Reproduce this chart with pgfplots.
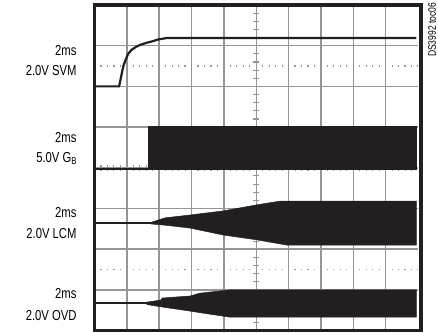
\documentclass[border=0pt]{standalone}
\usepackage{pgfplots}
\pgfplotsset{compat=1.18}
\usepackage{fontspec}
\setmainfont{Liberation Sans}[FakeStretch=0.78]
\definecolor{ink}{HTML}{231F20}
\definecolor{gridc}{HTML}{959595}
\begin{document}
\begin{tikzpicture}
\useasboundingbox (-94.5bp,-2.4bp) rectangle (343.5bp,330.6bp);
\begin{axis}[
  at={(0,0)}, anchor=south west,
  width=323.5bp, height=325.6bp, scale only axis,
  xmin=0, xmax=10, ymin=0, ymax=8,
  xtick={1,...,9}, ytick={1,...,7},
  xticklabels={}, yticklabels={},
  major tick length=0pt,
  grid=major, grid style={gridc, line width=1.5bp},
  axis line style={draw=none},
  clip=false,
  every node/.append style={text=ink},
]
% dotted half-division lines
\draw[gridc, line width=1.2bp, dash pattern=on 1.2bp off 5.27bp, dash phase=0.6bp] (axis cs:0,6.5) -- (axis cs:10,6.5);
\draw[gridc, line width=1.2bp, dash pattern=on 1.2bp off 5.27bp, dash phase=0.6bp] (axis cs:0,1.5) -- (axis cs:10,1.5);
% graticule minor ticks on center lines
\pgfplotsinvokeforeach{0.2,0.4,...,7.81}{
  \draw[gridc, line width=1.1bp] (axis cs:4.9,#1) -- (axis cs:5.1,#1);
}
\pgfplotsinvokeforeach{0.2,0.4,...,9.81}{
  \draw[gridc, line width=1.1bp] (axis cs:#1,3.92) -- (axis cs:#1,4.08);
}
% SVM
\addplot[ink, line width=2.2bp] coordinates {
  (0,6.0) (0.76,6.0) (0.80,6.15) (0.85,6.35) (0.90,6.52) (0.97,6.67) (1.04,6.80) (1.15,6.90) (1.28,6.97) (1.41,7.02)
  (1.60,7.07) (1.80,7.11) (1.95,7.15) (2.24,7.19) (9.95,7.19)};
% G_B
\addplot[ink, line width=1.5bp] coordinates {(0,3.97) (1.65,3.97)};
\addplot[fill=ink, draw=ink, line width=0.5bp] coordinates {
  (1.65,3.97) (1.65,5.02) (9.95,5.02) (9.95,3.97)} --cycle;
% LCM
\addplot[ink, line width=1.8bp] coordinates {(0,2.64) (1.75,2.64)};
\addplot[fill=ink, draw=ink, line width=0.5bp] coordinates {
  (1.75,2.66) (2.18,2.77) (2.95,2.84) (3.97,2.94) (5.02,3.09) (5.73,3.18) (9.95,3.18)
  (9.95,2.10) (5.95,2.10) (5.02,2.23) (3.97,2.35) (2.95,2.52) (2.18,2.59) (1.75,2.62)} --cycle;
% OVD
\addplot[ink, line width=1.8bp] coordinates {(0,0.68) (1.65,0.68)};
\addplot[fill=ink, draw=ink, line width=0.5bp] coordinates {
  (1.62,0.70) (2.05,0.75) (2.09,0.80) (2.95,0.85) (3.26,0.92) (4.19,1.0) (9.95,1.0)
  (9.95,0.33) (4.19,0.33) (3.35,0.43) (2.95,0.48) (2.09,0.58) (1.62,0.64)} --cycle;
% border
\draw[ink, line width=3.2bp] (axis cs:0,0) rectangle (axis cs:10.09,8);
% labels
\tikzset{lab/.style={anchor=base east, font=\fontsize{14.5}{16}\selectfont, inner sep=0pt}}
\node[lab] at (axis cs:-0.55,6.75) {2ms};
\node[lab] at (axis cs:-0.55,6.28) {2.0V SVM};
\node[lab] at (axis cs:-0.55,4.63) {2ms};
\node[lab] at (axis cs:-0.55,4.14) {5.0V G{\fontsize{10}{10}\selectfont\raisebox{-2.8bp}{B}}};
\node[lab] at (axis cs:-0.55,2.79) {2ms};
\node[lab] at (axis cs:-0.55,2.27) {2.0V LCM};
\node[lab] at (axis cs:-0.55,0.80) {2ms};
\node[lab] at (axis cs:-0.55,0.26) {2.0V OVD};
\node[rotate=90, anchor=base west, inner sep=0pt, font=\fontsize{11}{12}\selectfont] at (axis cs:10.55,6.72) {DS3992 toc06};
\end{axis}
\end{tikzpicture}
\end{document}
